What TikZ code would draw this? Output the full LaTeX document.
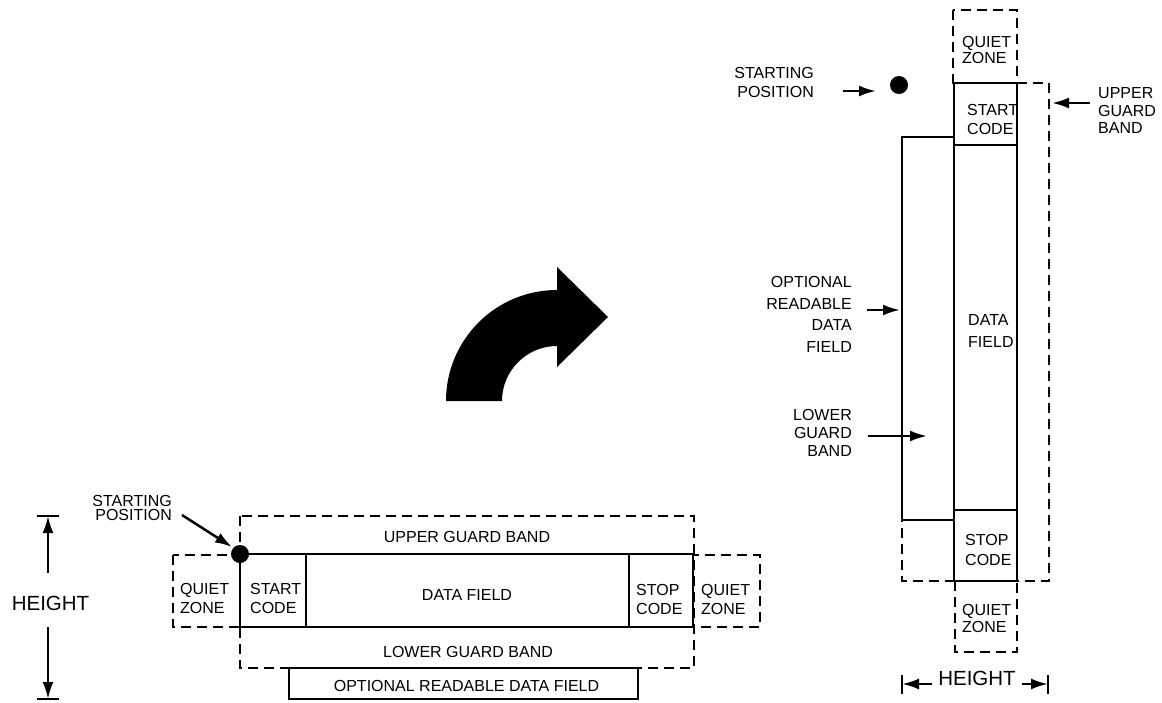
\documentclass[tikz,border=0pt]{standalone}
\usepackage{fontspec}
\setmainfont{Liberation Sans}
\usetikzlibrary{arrows.meta}
\begin{document}
\begin{tikzpicture}[x=1pt,y=-1pt,
  boxline/.style={line width=2.6pt},
  dashline/.style={line width=2.5pt, dash pattern=on 10pt off 6pt},
  txt/.style={inner sep=0pt, font=\fontsize{16}{#1}\selectfont},
  txt/.default=18,
  big/.style={inner sep=0pt, font=\fontsize{20.5}{24}\selectfont},
  ptr/.style={line width=2.5pt, -{Latex[length=17pt,width=11pt]}},
  dot/.style={circle, fill=black, inner sep=0pt, minimum size=18pt},
]
\useasboundingbox (0,0) rectangle (1162,702);

% ================= LEFT (horizontal) DIAGRAM =================
% dashed guard bands and quiet zones
\draw[dashline] (240,516) rectangle (694,668);
\draw[dashline] (173,555) rectangle (240,627);
\draw[dashline] (693,555) rectangle (760,627);
% solid symbol
\draw[boxline] (240,554) rectangle (693,627);
\draw[boxline] (306,554) -- (306,627);
\draw[boxline] (629,554) -- (629,627);
% optional readable field
\draw[boxline, fill=white] (289,668) rectangle (638,699);

\node[txt=19, align=left, anchor=west] (lqz1) at (180,598.5) {QUIET\\ZONE};
\node[txt=19, align=left, anchor=west] (lstart) at (250,598.5) {START\\CODE};
\node[txt] (ldata) at (467,595) {DATA FIELD};
\node[txt=19, align=left, anchor=west] (lstop) at (636,599) {STOP\\CODE};
\node[txt=19, align=left, anchor=west] (lqz2) at (701,599) {QUIET\\ZONE};
\node[txt] (lupper) at (467,537) {UPPER GUARD BAND};
\node[txt] (llower) at (468,652) {LOWER GUARD BAND};
\node[txt] (lopt) at (466.5,686) {OPTIONAL READABLE DATA FIELD};

% starting position
\node[dot] (ldot) at (240,554) {};
\node[txt=14.3, align=right, anchor=east] (lsp) at (172,508) {STARTING\\POSITION};
\coordinate (lspS) at (182,515);
\coordinate (lspE) at (232,547);
\draw[ptr] (lspS) -- (lspE);

% height dimension
\node[big] (lh) at (50.5,603) {HEIGHT};
\coordinate (lhT) at (48,516);
\coordinate (lhB) at (48,699);
\coordinate (lhU) at (48,573);
\coordinate (lhD) at (48,627);
\draw[boxline] (37,516) -- (59,516);
\draw[boxline] (37,699) -- (59,699);
\draw[ptr] (lhU) -- (lhT);
\draw[ptr] (lhD) -- (lhB);

% ================= ROTATION ARROW =================
\fill[black] (446,401) arc[start angle=180, end angle=270, radius=111]
  -- (557,267) -- (608,317) -- (557,367) -- (557,346)
  arc[start angle=270, end angle=180, radius=55] -- cycle;

% ================= RIGHT (vertical) DIAGRAM =================
\draw[dashline] (953,10) rectangle (1017,83);
\draw[dashline] (1017,83) -- (1049,83) -- (1049,581) -- (902,581) -- (902,520);
\draw[dashline] (955,581) rectangle (1017,652);
\draw[boxline] (902,137) rectangle (954,520);
\draw[boxline] (954,83) rectangle (1017,581);
\draw[boxline] (954,145) -- (1017,145);
\draw[boxline] (954,510) -- (1017,510);

\node[txt=16, align=left, anchor=west] (rqz1) at (962,49.5) {QUIET\\ZONE};
\node[txt=19.5, align=left, anchor=west] (rstart) at (967,119.3) {START\\CODE};
\node[txt=22, align=left, anchor=west] (rdata) at (968,331) {DATA\\FIELD};
\node[txt=20, align=left, anchor=west] (rstop) at (965,550) {STOP\\CODE};
\node[txt=17, align=left, anchor=west] (rqz2) at (962,618.5) {QUIET\\ZONE};

% starting position
\node[dot] (rdot) at (899,85) {};
\node[txt=19, align=right, anchor=east] (rsp) at (814,82.5) {STARTING\\POSITION};
\coordinate (rspS) at (843,91);
\coordinate (rspE) at (876,91);
\draw[ptr] (rspS) -- (rspE);

% upper guard band label
\node[txt=17.5, align=left, anchor=west] (rupper) at (1098,110.5) {UPPER\\GUARD\\BAND};
\coordinate (ruS) at (1090,103);
\coordinate (ruE) at (1052,103);
\draw[ptr] (ruS) -- (ruE);

% optional readable data field label
\node[txt=21.7, align=right, anchor=east] (ropt) at (852,314.5) {OPTIONAL\\READABLE\\DATA\\FIELD};
\coordinate (roS) at (867,310);
\coordinate (roE) at (900,310);
\draw[ptr] (roS) -- (roE);

% lower guard band label
\node[txt=18, align=right, anchor=east] (rlow) at (852,433) {LOWER\\GUARD\\BAND};
\coordinate (rlS) at (868,436);
\coordinate (rlE) at (927,436);
\draw[ptr] (rlS) -- (rlE);

% height dimension
\node[big] (rh) at (977,678) {HEIGHT};
\coordinate (rhL) at (902,684);
\coordinate (rhR) at (1048,684);
\coordinate (rhA) at (932,684);
\coordinate (rhB) at (1022,684);
\draw[boxline] (902,675) -- (902,694);
\draw[boxline] (1048,675) -- (1048,694);
\draw[ptr] (rhA) -- (rhL);
\draw[ptr] (rhB) -- (rhR);
\end{tikzpicture}
\end{document}
